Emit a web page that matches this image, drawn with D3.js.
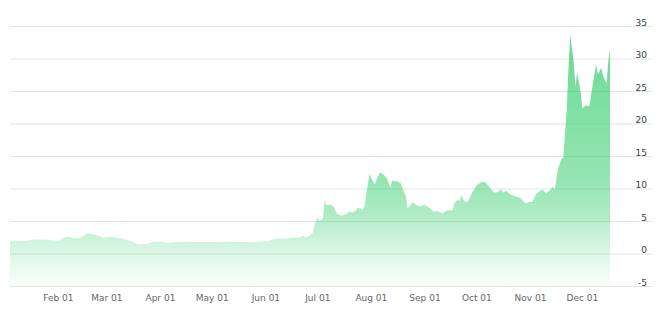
<!DOCTYPE html>
<html>
<head>
<meta charset="utf-8">
<script src="https://cdn.jsdelivr.net/npm/d3@7/dist/d3.min.js"></script>
<style>
  body { margin: 0; background: #fff; }
  svg { display: block; font-family: "DejaVu Sans", sans-serif; }
</style>
</head>
<body>
<div id="chart"></div>
<script>
var dates = [
  "2021-01-04","2021-01-13","2021-01-17","2021-01-24","2021-02-01","2021-02-04","2021-02-06","2021-02-09",
  "2021-02-13","2021-02-18","2021-02-22","2021-02-27","2021-03-03","2021-03-07","2021-03-11","2021-03-16",
  "2021-03-19","2021-03-24","2021-03-28","2021-04-01","2021-04-05","2021-04-13","2021-04-27","2021-05-12",
  "2021-05-22","2021-06-02","2021-06-06","2021-06-12","2021-06-18","2021-06-21","2021-06-22","2021-06-24",
  "2021-06-25","2021-06-28","2021-06-29","2021-07-01","2021-07-02","2021-07-04","2021-07-05","2021-07-06",
  "2021-07-08","2021-07-10","2021-07-12","2021-07-15","2021-07-18","2021-07-19","2021-07-21","2021-07-23",
  "2021-07-24","2021-07-27","2021-07-28","2021-07-29","2021-07-31","2021-08-01","2021-08-03","2021-08-04",
  "2021-08-06","2021-08-08","2021-08-10","2021-08-12","2021-08-13","2021-08-16","2021-08-18","2021-08-19",
  "2021-08-21","2021-08-22","2021-08-25","2021-08-26","2021-08-29","2021-08-31","2021-09-02","2021-09-04",
  "2021-09-06","2021-09-08","2021-09-11","2021-09-14","2021-09-17","2021-09-18","2021-09-20","2021-09-21",
  "2021-09-22","2021-09-24","2021-09-26","2021-09-28","2021-10-01","2021-10-04","2021-10-06","2021-10-08",
  "2021-10-10","2021-10-11","2021-10-13","2021-10-15","2021-10-16","2021-10-18","2021-10-20","2021-10-23",
  "2021-10-26","2021-10-29","2021-10-31","2021-11-02","2021-11-04","2021-11-06","2021-11-08","2021-11-10",
  "2021-11-12","2021-11-14","2021-11-15","2021-11-17","2021-11-19","2021-11-20","2021-11-22","2021-11-23",
  "2021-11-24","2021-11-26","2021-11-27","2021-11-28","2021-11-30","2021-12-01","2021-12-03","2021-12-05",
  "2021-12-07","2021-12-09","2021-12-10","2021-12-12","2021-12-13","2021-12-15","2021-12-16","2021-12-17"
];
var values = [
  2.0, 2.0, 2.25, 2.2, 2.0, 2.5, 2.7, 2.45,
  2.4, 3.2, 3.0, 2.5, 2.6, 2.55, 2.3, 1.9,
  1.5, 1.55, 1.9, 1.9, 1.75, 1.9, 1.85, 1.9,
  1.8, 1.95, 2.35, 2.4, 2.5, 2.55, 2.85, 2.6,
  2.6, 3.2, 4.45, 5.6, 5.1, 5.5, 8.3, 7.5,
  7.6, 7.35, 6.25, 5.9, 6.25, 6.55, 6.35, 6.75,
  7.1, 6.85, 7.3, 9.1, 12.4, 11.65, 10.7, 11.5,
  12.55, 12.25, 11.6, 10.2, 11.3, 11.15, 10.9, 10.1,
  8.8, 7.0, 8.0, 7.7, 7.3, 7.55, 7.4, 6.95,
  6.5, 6.65, 6.25, 6.75, 6.75, 7.8, 8.4, 8.1,
  9.0, 8.0, 8.1, 9.3, 10.6, 11.1, 11.05, 10.4,
  9.75, 9.45, 9.5, 9.95, 9.45, 9.75, 9.25, 8.9,
  8.65, 7.8, 8.05, 8.0, 9.1, 9.6, 9.9, 9.4,
  9.75, 10.35, 9.9, 13.2, 14.6, 14.8, 22.4, 28.6,
  33.6, 29.6, 25.75, 27.95, 25.0, 22.4, 22.9, 22.75,
  26.0, 29.2, 27.6, 28.65, 27.4, 26.25, 29.6, 31.5
];
var yTicks = [-5, 0, 5, 10, 15, 20, 25, 30, 35];
var xTicks = ["2021-02-01","2021-03-01","2021-04-01","2021-05-01","2021-06-01","2021-07-01",
              "2021-08-01","2021-09-01","2021-10-01","2021-11-01","2021-12-01"];

var width = 660, height = 318,
    plotLeft = 10, plotRight = 610, gridRight = 652;

var parse = d3.timeParse("%Y-%m-%d");
var data = dates.map(function(d, i) { return {date: parse(d), value: values[i]}; });

var x = d3.scaleTime()
    .domain([parse("2021-01-04"), parse("2021-12-17")])
    .range([plotLeft, plotRight]);

var y = d3.scaleLinear()
    .domain([-5, 35])
    .range([286.5, 26.5]);

var svg = d3.select("#chart").append("svg")
    .attr("width", width)
    .attr("height", height);

var grad = svg.append("defs").append("linearGradient")
    .attr("id", "fillGrad")
    .attr("gradientUnits", "userSpaceOnUse")
    .attr("x1", 0).attr("x2", 0)
    .attr("y1", y(d3.max(values)))
    .attr("y2", y(-5));

[[0, 0.78], [0.58, 0.55], [0.71, 0.42], [0.845, 0.21], [1, 0.02]].forEach(function(s) {
    grad.append("stop")
        .attr("offset", s[0])
        .attr("stop-color", "#3fcf74")
        .attr("stop-opacity", s[1]);
});

// grid lines
svg.append("g").selectAll("line")
    .data(yTicks)
    .enter().append("line")
    .attr("x1", plotLeft)
    .attr("x2", gridRight)
    .attr("y1", function(d) { return y(d); })
    .attr("y2", function(d) { return y(d); })
    .attr("stroke", "#e3e3e3")
    .attr("stroke-width", 1);

var area = d3.area()
    .x(function(d) { return x(d.date); })
    .y0(y(-5))
    .y1(function(d) { return y(d.value); });

svg.append("path")
    .datum(data)
    .attr("fill", "url(#fillGrad)")
    .attr("d", area);

// y labels (right side)
svg.append("g").selectAll("text")
    .data(yTicks)
    .enter().append("text")
    .attr("x", 647)
    .attr("y", function(d) { return y(d) - 1; })
    .attr("text-anchor", "end")
    .attr("font-size", "9px")
    .attr("fill", "#373d3f")
    .text(function(d) { return d; });

// x labels
var fmt = d3.timeFormat("%b %d");
svg.append("g").selectAll("text")
    .data(xTicks)
    .enter().append("text")
    .attr("x", function(d) { return x(parse(d)); })
    .attr("y", 300.5)
    .attr("text-anchor", "middle")
    .attr("font-size", "9px")
    .attr("fill", "#666")
    .text(function(d) { return fmt(parse(d)); });
</script>
</body>
</html>
